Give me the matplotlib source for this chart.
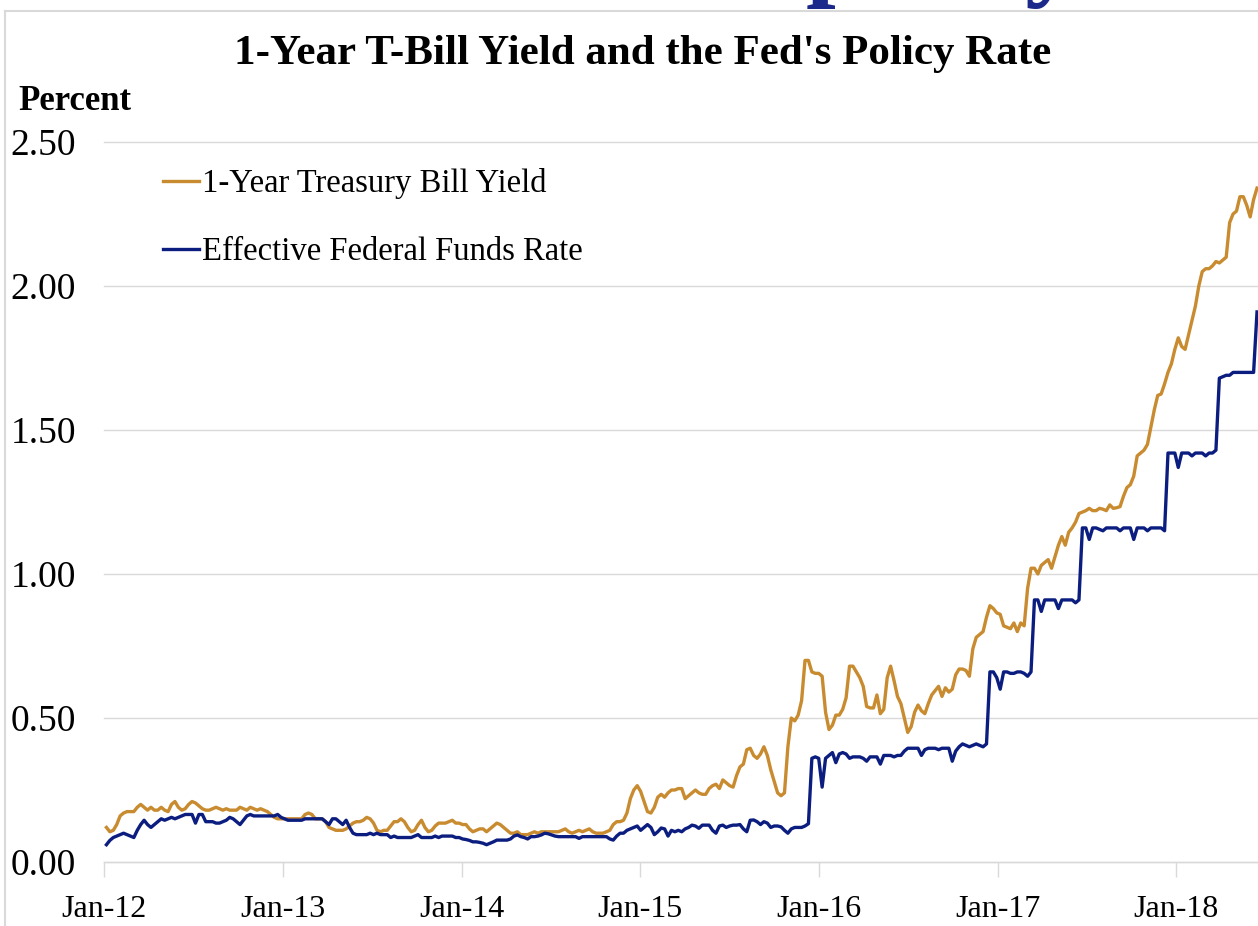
import matplotlib
matplotlib.use("Agg")
import matplotlib.pyplot as plt
from matplotlib.lines import Line2D
import pandas as pd

# ---------------- data (weekly, Fridays from 2012-01-06) ----------------
tbill_2012 = [0.12, 0.105, 0.11, 0.13, 0.16, 0.17, 0.175, 0.175, 0.175, 0.19, 0.20, 0.19, 0.18,
              0.19, 0.18, 0.18, 0.19, 0.18, 0.175, 0.20, 0.21, 0.19, 0.18, 0.185, 0.20, 0.21,
              0.205, 0.195, 0.185, 0.18, 0.18, 0.185, 0.19, 0.185, 0.18, 0.185, 0.18, 0.18,
              0.18, 0.19, 0.185, 0.18, 0.19, 0.185, 0.18, 0.185, 0.18, 0.175, 0.165, 0.155,
              0.15, 0.15]
tbill_2013 = [0.15, 0.15, 0.15, 0.15, 0.15, 0.15, 0.165, 0.17, 0.165, 0.15, 0.15, 0.15, 0.14,
              0.12, 0.115, 0.11, 0.11, 0.11, 0.115, 0.125, 0.135, 0.14, 0.14, 0.145, 0.155,
              0.15, 0.135, 0.11, 0.105, 0.11, 0.11, 0.125, 0.14, 0.14, 0.15, 0.14, 0.12, 0.105,
              0.11, 0.13, 0.145, 0.12, 0.105, 0.11, 0.125, 0.135, 0.135, 0.135, 0.14, 0.145,
              0.135, 0.135]
tbill_2014 = [0.13, 0.13, 0.115, 0.105, 0.11, 0.115, 0.115, 0.105, 0.115, 0.125, 0.135, 0.13,
              0.12, 0.11, 0.10, 0.10, 0.105, 0.095, 0.095, 0.095, 0.10, 0.105, 0.10, 0.105,
              0.105, 0.105, 0.105, 0.105, 0.105, 0.11, 0.115, 0.105, 0.10, 0.105, 0.11, 0.105,
              0.11, 0.115, 0.105, 0.10, 0.10, 0.10, 0.105, 0.11, 0.13, 0.14, 0.14, 0.145, 0.17,
              0.22, 0.25, 0.265]
tbill_2015 = [0.245, 0.21, 0.175, 0.17, 0.19, 0.225, 0.235, 0.225, 0.24, 0.25, 0.25, 0.255,
              0.255, 0.22, 0.23, 0.24, 0.25, 0.24, 0.235, 0.235, 0.255, 0.265, 0.27, 0.255,
              0.285, 0.275, 0.265, 0.26, 0.30, 0.33, 0.34, 0.39, 0.395, 0.37, 0.36, 0.375, 0.40,
              0.37, 0.32, 0.28, 0.24, 0.23, 0.24, 0.40, 0.50, 0.49, 0.51, 0.56, 0.70, 0.70,
              0.66, 0.655]
tbill_2016 = [0.655, 0.645, 0.52, 0.46, 0.475, 0.51, 0.51, 0.53, 0.57, 0.68, 0.68, 0.66, 0.64,
              0.61, 0.54, 0.535, 0.535, 0.58, 0.515, 0.53, 0.64, 0.68, 0.63, 0.575, 0.55, 0.50,
              0.45, 0.47, 0.52, 0.545, 0.525, 0.515, 0.55, 0.58, 0.595, 0.61, 0.575, 0.605,
              0.59, 0.60, 0.65, 0.67, 0.67, 0.665, 0.645, 0.74, 0.78, 0.79, 0.80, 0.85, 0.89,
              0.88, 0.865]
tbill_2017 = [0.86, 0.82, 0.815, 0.81, 0.83, 0.80, 0.83, 0.82, 0.95, 1.02, 1.02, 1.00, 1.03,
              1.04, 1.05, 1.02, 1.06, 1.10, 1.13, 1.10, 1.145, 1.16, 1.18, 1.21, 1.215, 1.22,
              1.228, 1.22, 1.22, 1.228, 1.225, 1.22, 1.24, 1.228, 1.23, 1.234, 1.27, 1.30, 1.31,
              1.34, 1.41, 1.42, 1.43, 1.45, 1.51, 1.57, 1.62, 1.625, 1.66, 1.70, 1.73, 1.78]
tbill_2018 = [1.82, 1.79, 1.78, 1.83, 1.88, 1.93, 2.00, 2.05, 2.06, 2.06, 2.07, 2.085, 2.08,
              2.09, 2.10, 2.22, 2.25, 2.26, 2.31, 2.31, 2.28, 2.24, 2.30, 2.34]

effr_2012 = [0.06, 0.075, 0.085, 0.09, 0.095, 0.10, 0.095, 0.09, 0.085, 0.11, 0.13, 0.145, 0.13,
             0.12, 0.13, 0.14, 0.15, 0.145, 0.15, 0.155, 0.15, 0.155, 0.16, 0.165, 0.165, 0.165,
             0.135, 0.165, 0.165, 0.14, 0.14, 0.14, 0.135, 0.135, 0.14, 0.145, 0.155, 0.15,
             0.14, 0.13, 0.145, 0.16, 0.165, 0.16, 0.16, 0.16, 0.16, 0.16, 0.16, 0.16, 0.165,
             0.155]
effr_2013 = [0.15, 0.145, 0.145, 0.145, 0.145, 0.145, 0.15, 0.15, 0.15, 0.15, 0.15, 0.15, 0.14,
             0.13, 0.15, 0.15, 0.14, 0.13, 0.145, 0.12, 0.10, 0.095, 0.095, 0.095, 0.095, 0.10,
             0.095, 0.10, 0.095, 0.095, 0.095, 0.085, 0.09, 0.085, 0.085, 0.085, 0.085, 0.085,
             0.09, 0.095, 0.085, 0.085, 0.085, 0.085, 0.09, 0.085, 0.09, 0.09, 0.09, 0.09,
             0.085, 0.085]
effr_2014 = [0.08, 0.078, 0.075, 0.07, 0.07, 0.068, 0.065, 0.06, 0.065, 0.07, 0.076, 0.076,
             0.076, 0.076, 0.08, 0.09, 0.094, 0.088, 0.085, 0.08, 0.088, 0.088, 0.09, 0.094,
             0.10, 0.098, 0.094, 0.09, 0.088, 0.088, 0.088, 0.088, 0.088, 0.088, 0.082, 0.088,
             0.088, 0.088, 0.088, 0.088, 0.088, 0.088, 0.088, 0.08, 0.076, 0.09, 0.10, 0.10,
             0.11, 0.115, 0.12, 0.125]
effr_2015 = [0.11, 0.12, 0.13, 0.12, 0.095, 0.105, 0.118, 0.115, 0.09, 0.11, 0.105, 0.11, 0.105,
             0.115, 0.12, 0.128, 0.125, 0.117, 0.128, 0.128, 0.128, 0.11, 0.10, 0.125, 0.128,
             0.12, 0.125, 0.128, 0.128, 0.13, 0.115, 0.105, 0.145, 0.146, 0.14, 0.13, 0.14,
             0.135, 0.12, 0.125, 0.125, 0.122, 0.11, 0.10, 0.115, 0.12, 0.12, 0.12, 0.125,
             0.133, 0.36, 0.365]
effr_2016 = [0.36, 0.26, 0.36, 0.37, 0.38, 0.345, 0.375, 0.38, 0.375, 0.36, 0.365, 0.365, 0.365,
             0.36, 0.35, 0.365, 0.365, 0.365, 0.34, 0.37, 0.37, 0.37, 0.365, 0.37, 0.37, 0.385,
             0.395, 0.395, 0.395, 0.395, 0.37, 0.39, 0.395, 0.395, 0.395, 0.39, 0.395, 0.395,
             0.395, 0.35, 0.385, 0.40, 0.41, 0.405, 0.40, 0.405, 0.41, 0.405, 0.40, 0.41, 0.66,
             0.66, 0.64]
effr_2017 = [0.60, 0.66, 0.66, 0.655, 0.655, 0.66, 0.66, 0.655, 0.645, 0.66, 0.91, 0.91, 0.87,
             0.91, 0.91, 0.91, 0.91, 0.88, 0.91, 0.91, 0.91, 0.91, 0.90, 0.91, 1.16, 1.16, 1.12,
             1.16, 1.16, 1.155, 1.15, 1.16, 1.16, 1.16, 1.16, 1.15, 1.16, 1.16, 1.16, 1.12,
             1.16, 1.16, 1.16, 1.15, 1.16, 1.16, 1.16, 1.16, 1.15, 1.42, 1.42, 1.42]
effr_2018 = [1.37, 1.42, 1.42, 1.42, 1.41, 1.42, 1.42, 1.42, 1.41, 1.42, 1.42, 1.43, 1.68,
             1.685, 1.69, 1.69, 1.70, 1.70, 1.70, 1.70, 1.70, 1.70, 1.70, 1.91]

tbill = (tbill_2012 + tbill_2013 + tbill_2014 + tbill_2015 + tbill_2016 + tbill_2017
         + tbill_2018)
effr = (effr_2012 + effr_2013 + effr_2014 + effr_2015 + effr_2016 + effr_2017 + effr_2018)

start_date = "2012-01-06"
tbill_dates = pd.date_range(start_date, periods=len(tbill), freq="7D")
effr_dates = pd.date_range(start_date, periods=len(effr), freq="7D")

series_labels = ["1-Year Treasury Bill Yield", "Effective Federal Funds Rate"]
title_text = "1-Year T-Bill Yield and the Fed's Policy Rate"
y_ticks = [0.0, 0.5, 1.0, 1.5, 2.0, 2.5]
x_tick_dates = ["2012-01-01", "2013-01-01", "2014-01-01", "2015-01-01",
                "2016-01-01", "2017-01-01", "2018-01-01"]
x_tick_labels = ["Jan-12", "Jan-13", "Jan-14", "Jan-15", "Jan-16", "Jan-17", "Jan-18"]

# ---------------- style ----------------
GOLD = "#C98B2F"
NAVY = "#0C1D80"
GRID = "#D9D9D9"
SERIF = ["Liberation Serif", "DejaVu Serif"]
plt.rcParams["font.family"] = SERIF

W, H = 1258, 926
fig = plt.figure(figsize=(W / 100, H / 100), dpi=100)
fig.patch.set_facecolor("white")

def fx(px):
    return px / W

def fy(py):
    return 1 - py / H

ax_left, ax_right, ax_top, ax_bot = 104, 1258, 142, 862
ax = fig.add_axes([fx(ax_left), fy(ax_bot), fx(ax_right - ax_left), (ax_bot - ax_top) / H])

LW = 2.4
ax.plot(tbill_dates, tbill, color=GOLD, lw=LW, solid_joinstyle="round", zorder=3)
ax.plot(effr_dates, effr, color=NAVY, lw=LW, solid_joinstyle="round", zorder=4)

ax.set_ylim(0, 2.5)
ax.set_xlim(pd.Timestamp("2012-01-01"), pd.Timestamp("2018-06-17"))
ax.set_yticks(y_ticks)
ax.set_yticklabels([f"{v:.2f}" for v in y_ticks])
ax.set_xticks([pd.Timestamp(d) for d in x_tick_dates])
ax.set_xticklabels(x_tick_labels)

ax.yaxis.grid(True, color=GRID, lw=1.0)
ax.set_axisbelow(True)
for s in ["top", "right", "left"]:
    ax.spines[s].set_visible(False)
ax.spines["bottom"].set_color(GRID)
ax.spines["bottom"].set_linewidth(1.0)
ax.tick_params(axis="y", length=0, pad=20, labelsize=27, labelcolor="black")
ax.tick_params(axis="x", length=11, width=1.0, color=GRID, pad=13, labelsize=23,
               labelcolor="black")
for gl in ax.get_ygridlines():
    gl.set_clip_on(False)

# legend
handles = [Line2D([], [], color=GOLD, lw=LW), Line2D([], [], color=NAVY, lw=LW)]
leg = fig.legend(handles, series_labels, loc="upper left",
                 bbox_to_anchor=(fx(163), fy(168)), frameon=False,
                 prop={"family": SERIF, "size": 23.5}, handlelength=1.1,
                 handletextpad=0.1, labelspacing=1.15, borderpad=0, borderaxespad=0)

# titles
fig.text(fx(643), fy(64), title_text, ha="center", va="baseline",
         fontsize=31, fontweight="bold", color="black")
fig.text(fx(18), fy(110), "Percent", ha="left", va="baseline",
         fontsize=25, fontweight="bold", color="black")

# slide heading fragment cut off at the top
fig.text(fx(806), fy(-14), "policy", ha="left", va="baseline", fontsize=77,
         fontweight="bold", color="#1B2A8A")

# chart frame
fig.add_artist(Line2D([fx(5), fx(W)], [fy(11), fy(11)], color=GRID, lw=1.5))
fig.add_artist(Line2D([fx(5), fx(5)], [fy(11), fy(H)], color=GRID, lw=1.5))

fig.savefig("out.png", dpi=100, facecolor="white")
